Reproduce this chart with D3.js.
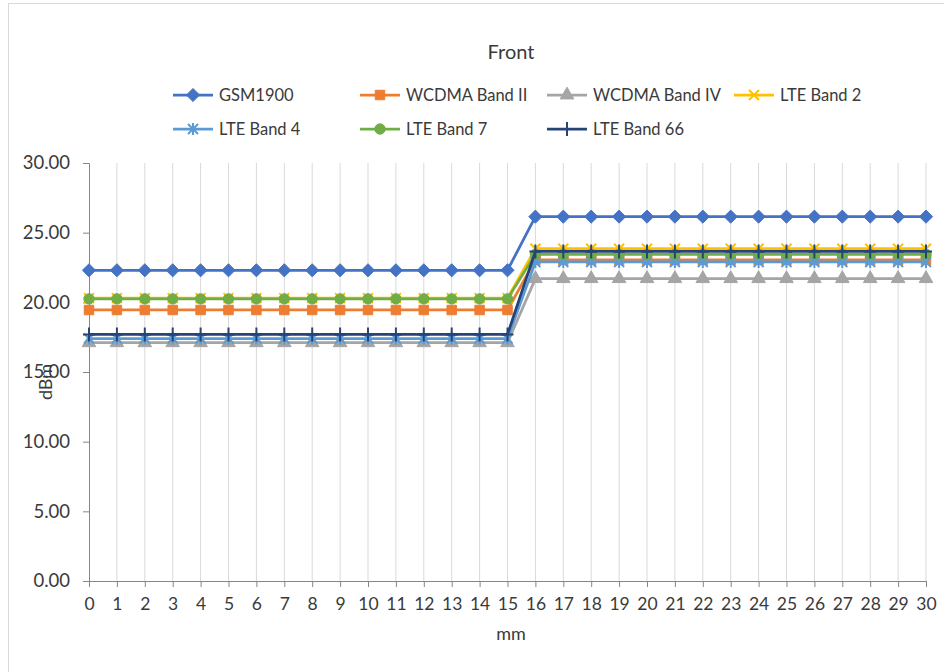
<!DOCTYPE html>
<html>
<head>
<meta charset="utf-8">
<script src="https://cdn.jsdelivr.net/npm/d3@7"></script>
<style>
  html, body { margin: 0; padding: 0; background: #fff; }
  svg { display: block; }
  text { font-family: Lato, "Open Sans", "Liberation Sans", sans-serif; fill: #3a3a3a; }
</style>
</head>
<body>
<svg id="chart" width="944" height="672"></svg>
<script>
// Positions along the measurement axis (mm)
const distances = [0,1,2,3,4,5,6,7,8,9,10,11,12,13,14,15,16,17,18,19,20,21,22,23,24,25,26,27,28,29,30];

// Power per band (dBm)
const gsm1900 = [22.3,22.3,22.3,22.3,22.3,22.3,22.3,22.3,22.3,22.3,22.3,22.3,22.3,22.3,22.3,22.3,
                 26.15,26.15,26.15,26.15,26.15,26.15,26.15,26.15,26.15,26.15,26.15,26.15,26.15,26.15,26.15];
const wcdmaBand2 = [19.45,19.45,19.45,19.45,19.45,19.45,19.45,19.45,19.45,19.45,19.45,19.45,19.45,19.45,19.45,19.45,
                    23.05,23.05,23.05,23.05,23.05,23.05,23.05,23.05,23.05,23.05,23.05,23.05,23.05,23.05,23.05];
const wcdmaBand4 = [17.1,17.1,17.1,17.1,17.1,17.1,17.1,17.1,17.1,17.1,17.1,17.1,17.1,17.1,17.1,17.1,
                    21.7,21.7,21.7,21.7,21.7,21.7,21.7,21.7,21.7,21.7,21.7,21.7,21.7,21.7,21.7];
const lteBand2 = [20.3,20.3,20.3,20.3,20.3,20.3,20.3,20.3,20.3,20.3,20.3,20.3,20.3,20.3,20.3,20.3,
                  23.85,23.85,23.85,23.85,23.85,23.85,23.85,23.85,23.85,23.85,23.85,23.85,23.85,23.85,23.85];
const lteBand4 = [17.4,17.4,17.4,17.4,17.4,17.4,17.4,17.4,17.4,17.4,17.4,17.4,17.4,17.4,17.4,17.4,
                  22.9,22.9,22.9,22.9,22.9,22.9,22.9,22.9,22.9,22.9,22.9,22.9,22.9,22.9,22.9];
const lteBand7 = [20.25,20.25,20.25,20.25,20.25,20.25,20.25,20.25,20.25,20.25,20.25,20.25,20.25,20.25,20.25,20.25,
                  23.45,23.45,23.45,23.45,23.45,23.45,23.45,23.45,23.45,23.45,23.45,23.45,23.45,23.45,23.45];
const lteBand66 = [17.7,17.7,17.7,17.7,17.7,17.7,17.7,17.7,17.7,17.7,17.7,17.7,17.7,17.7,17.7,17.7,
                   23.65,23.65,23.65,23.65,23.65,23.65,23.65,23.65,23.65,23.65,23.65,23.65,23.65,23.65,23.65];

const seriesNames = ["GSM1900","WCDMA Band II","WCDMA Band IV","LTE Band 2","LTE Band 4","LTE Band 7","LTE Band 66"];
const seriesValues = [gsm1900, wcdmaBand2, wcdmaBand4, lteBand2, lteBand4, lteBand7, lteBand66];
const yTicks = [0, 5, 10, 15, 20, 25, 30];

const colors = ["#4472C4","#ED7D31","#A5A5A5","#FFC000","#5B9BD5","#70AD47","#264478"];
const markers = ["diamond","square","triangle","x","star","circle","plus"];

const svg = d3.select("#chart");

// chart frame
svg.append("rect").attr("x", 8.5).attr("y", 3.5).attr("width", 1000).attr("height", 1000)
  .attr("fill", "#fff").attr("stroke", "#d9d9d9").attr("stroke-width", 1);

const x = d3.scalePoint().domain(distances).range([89, 926]);
const y = d3.scaleLinear().domain([0, 30]).range([581, 163]);

// vertical gridlines
svg.append("g").selectAll("line").data(distances.slice(1)).join("line")
  .attr("x1", d => x(d)).attr("x2", d => x(d))
  .attr("y1", y(30)).attr("y2", y(0))
  .attr("stroke", "#d9d9d9").attr("stroke-width", 1);

// y axis
const yAxis = svg.append("g").attr("transform", `translate(${x(0)},0)`)
  .call(d3.axisLeft(y).tickValues(yTicks).tickFormat(d3.format(".2f")).tickSize(6).tickPadding(13));
yAxis.select(".domain").attr("stroke", "#868686");
yAxis.selectAll(".tick line").attr("stroke", "#868686");
yAxis.selectAll("text").attr("font-size", 18.5).attr("fill", "#3a3a3a")
  .attr("font-family", "Lato, 'Open Sans', sans-serif");

// x axis
const xAxis = svg.append("g").attr("transform", `translate(0,${y(0)})`)
  .call(d3.axisBottom(x).tickSize(6).tickPadding(11).tickSizeOuter(0));
xAxis.select(".domain").attr("stroke", "#868686");
xAxis.selectAll(".tick line").attr("stroke", "#868686");
xAxis.selectAll("text").attr("font-size", 17.5).attr("fill", "#3a3a3a")
  .attr("font-family", "Lato, 'Open Sans', sans-serif");

// marker shapes
function markerPath(type) {
  switch (type) {
    case "diamond": return d3.symbol(d3.symbolDiamond2, 110)();
    case "square": return d3.symbol(d3.symbolSquare, 90)();
    case "triangle": return d3.symbol(d3.symbolTriangle, 80)();
    case "circle": return d3.symbol(d3.symbolCircle, 85)();
    case "x": return "M-5,-5L5,5M-5,5L5,-5";
    case "star": return "M-5,-5L5,5M-5,5L5,-5M0,-6L0,6";
    case "plus": return "M-6,0L6,0M0,-7L0,7";
  }
}
function drawMarker(g, type, color) {
  const p = g.append("path").attr("d", markerPath(type));
  if (type === "x" || type === "star" || type === "plus") {
    p.attr("fill", "none").attr("stroke", color).attr("stroke-width", 2);
  } else {
    p.attr("fill", color).attr("stroke", color).attr("stroke-width", 1);
  }
}

const line = d3.line().x((d, i) => x(distances[i])).y(d => y(d));

seriesValues.forEach((vals, si) => {
  const g = svg.append("g");
  g.append("path").datum(vals).attr("d", line)
    .attr("fill", "none").attr("stroke", colors[si]).attr("stroke-width", 2.75)
    .attr("stroke-linejoin", "round");
  vals.forEach((v, i) => {
    const m = g.append("g").attr("transform", `translate(${x(distances[i])},${y(v)})`);
    drawMarker(m, markers[si], colors[si]);
  });
});

// title
svg.append("text").attr("x", 511).attr("y", 59).attr("text-anchor", "middle")
  .attr("font-size", 20).attr("fill", "#3a3a3a").text("Front");

// legend
const legendPos = [
  [173, 95], [360, 95], [547, 95], [734, 95],
  [173, 129], [360, 129], [547, 129]
];
seriesNames.forEach((name, i) => {
  const [lx, ly] = legendPos[i];
  const g = svg.append("g").attr("transform", `translate(${lx},${ly})`);
  g.append("line").attr("x1", 0).attr("x2", 40).attr("y1", 0).attr("y2", 0)
    .attr("stroke", colors[i]).attr("stroke-width", 2.75);
  const m = g.append("g").attr("transform", "translate(20,0)");
  drawMarker(m, markers[i], colors[i]);
  g.append("text").attr("x", 46).attr("y", 6).attr("font-size", 16.5).attr("fill", "#3a3a3a").text(name);
});

// axis titles
svg.append("text").attr("transform", `translate(52,${(y(0) + y(30)) / 2 + 10}) rotate(-90)`)
  .attr("text-anchor", "middle").attr("font-size", 18).attr("fill", "#3a3a3a").text("dBm");
svg.append("text").attr("x", 511).attr("y", 640).attr("text-anchor", "middle")
  .attr("font-size", 18).attr("fill", "#3a3a3a").text("mm");
</script>
</body>
</html>
